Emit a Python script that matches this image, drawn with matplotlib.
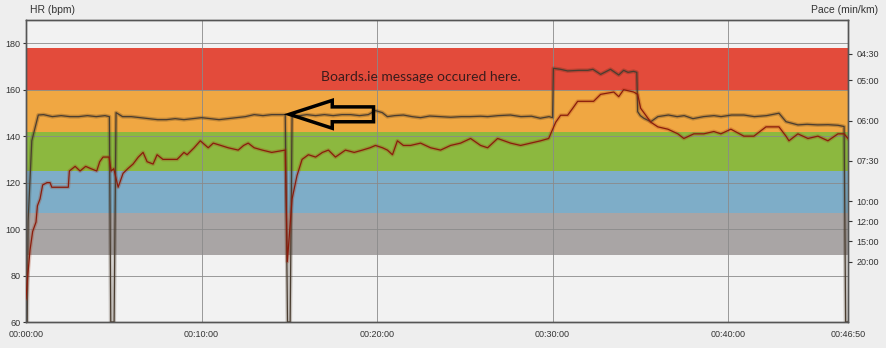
import matplotlib
matplotlib.use('Agg')
import matplotlib.pyplot as plt
import matplotlib.patheffects as pe
from matplotlib.patches import FancyArrow
from matplotlib.ticker import FuncFormatter

# heart rate, time in minutes
hr_time = [0.0, 0.1, 0.23, 0.38, 0.57, 0.65, 0.8, 0.95, 1.2, 1.37, 1.47, 2.41, 2.47, 2.8,
           3.08, 3.4, 3.7, 4.03, 4.2, 4.39, 4.73, 4.85, 5.0, 5.25, 5.53, 5.8, 6.1, 6.4,
           6.67, 6.9, 7.24, 7.47, 7.8, 8.04, 8.61, 9.0, 9.18, 9.58, 9.93, 10.38, 10.67,
           11.1, 11.52, 12.09, 12.4, 12.66, 13.0, 13.46, 14.0, 14.77, 14.89, 15.16, 15.44,
           15.73, 16.09, 16.5, 16.89, 17.23, 17.63, 18.2, 18.7, 19.17, 19.6, 19.91, 20.31,
           20.59, 20.88, 21.16, 21.5, 21.91, 22.48, 23.05, 23.62, 24.19, 24.76, 25.33,
           25.9, 26.3, 26.87, 27.61, 28.18, 28.75, 29.32, 29.78, 30.18, 30.46, 30.86,
           31.15, 31.43, 32.34, 32.74, 33.49, 33.77, 34.05, 34.62, 34.85, 35.02, 35.31,
           35.6, 36.0, 36.57, 37.14, 37.48, 38.05, 38.62, 39.19, 39.59, 40.16, 40.9,
           41.47, 42.16, 42.9, 43.3, 43.47, 43.98, 44.55, 45.12, 45.69, 46.26, 46.61, 46.83]
hr_bpm = [70, 80, 91, 99, 103, 110, 113, 119, 120, 120, 118, 118, 125, 127,
          125, 127, 126, 125, 129, 131, 131, 125, 126, 118, 124, 126, 128, 131,
          133, 129, 128, 132, 130, 130, 130, 133, 132, 135, 138, 135, 137,
          136, 135, 134, 136, 137, 135, 134, 133, 134, 86, 113, 123,
          130, 132, 131, 133, 134, 131, 134, 133, 134, 135, 136, 135,
          134, 132, 138, 136, 136, 137, 135, 134, 136, 137, 139,
          136, 135, 139, 137, 136, 137, 138, 139, 146, 149, 149,
          152, 155, 155, 158, 159, 157, 160, 159, 158, 152, 149,
          146, 144, 143, 141, 139, 141, 141, 142, 141, 143, 140,
          140, 144, 144, 140, 138, 141, 139, 140, 138, 141, 141, 139]

# speed in km/h (drawn against the pace axis)
spd_time = [0.0, 0.07, 0.12, 0.33, 0.7, 1.0, 1.5, 2.0, 2.5, 3.0, 3.5, 4.0, 4.5, 4.75,
            4.83, 5.02, 5.13, 5.5, 6.0, 6.5, 7.0, 7.5, 8.0, 8.5, 9.0, 9.5, 10.0, 10.5,
            11.0, 11.5, 12.0, 12.5, 13.0, 13.5, 14.0, 14.5, 14.77, 14.9, 15.05, 15.16,
            15.6, 16.0, 16.5, 17.0, 17.5, 18.0, 18.5, 19.0, 19.5, 19.91, 20.3, 20.59,
            21.0, 21.5, 22.0, 22.48, 23.0, 23.6, 24.2, 24.8, 25.3, 25.9, 26.3, 26.9,
            27.6, 28.2, 28.8, 29.3, 29.8, 30.0, 30.05, 30.46, 30.86, 31.5, 32.0, 32.3,
            32.74, 33.3, 33.77, 34.05, 34.3, 34.62, 34.8, 34.85, 35.0, 35.2, 35.6, 36.0,
            36.6, 37.1, 37.5, 38.0, 38.6, 39.2, 39.6, 40.2, 40.9, 41.5, 42.2, 42.9,
            43.3, 43.98, 44.5, 45.1, 45.7, 46.26, 46.61, 46.7, 46.83]
spd_kmh = [0, 0, 5.0, 9.0, 10.28, 10.3, 10.2, 10.25, 10.2, 10.2, 10.25, 10.2, 10.25, 10.2,
           0, 0, 10.4, 10.2, 10.2, 10.15, 10.1, 10.05, 10.05, 10.1, 10.05, 10.1, 10.15, 10.1,
           10.05, 10.1, 10.15, 10.2, 10.3, 10.25, 10.3, 10.3, 10.3, 0, 0, 10.2,
           10.25, 10.3, 10.25, 10.3, 10.25, 10.3, 10.3, 10.25, 10.3, 10.5, 10.4, 10.2,
           10.25, 10.28, 10.2, 10.15, 10.23, 10.2, 10.17, 10.2, 10.2, 10.22, 10.2, 10.25,
           10.28, 10.2, 10.22, 10.12, 10.2, 10.15, 12.6, 12.55, 12.47, 12.5, 12.5, 12.55,
           12.3, 12.55, 12.27, 12.5, 12.4, 12.45, 12.4, 10.45, 10.25, 10.12, 9.95, 10.2,
           10.28, 10.2, 10.25, 10.1, 10.2, 10.25, 10.2, 10.28, 10.28, 10.2, 10.25, 10.37,
           9.95, 9.79, 9.82, 9.79, 9.8, 9.77, 9.71, 0, 0]

zone_edges = [89, 107, 125, 142, 160, 178]
zone_colors = ['#a9a5a5', '#7eadc8', '#8cb83f', '#f0a742', '#e34b3b']

hr_ticks = [60, 80, 100, 120, 140, 160, 180]
time_ticks = [0, 10, 20, 30, 40, 46 + 50 / 60]
pace_labels = ['04:30', '05:00', '06:00', '07:30', '10:00', '12:00', '15:00', '20:00']
pace_speed = [60 / (int(p[:2]) + int(p[3:]) / 60) for p in pace_labels]


def fmt_time(v, pos):
    s = int(round(v * 60))
    return f"{s // 3600:02d}:{(s // 60) % 60:02d}:{s % 60:02d}"


plt.rcParams['font.family'] = ['Liberation Sans', 'DejaVu Sans']

fig = plt.figure(figsize=(8.87, 3.48), dpi=100, facecolor='#eeeeee')
rect = [26 / 887, 26 / 348, 822 / 887, 302 / 348]
ax = fig.add_axes(rect)
ax.set_facecolor('#f2f2f2')
for lo, hi, c in zip(zone_edges[:-1], zone_edges[1:], zone_colors):
    ax.axhspan(lo, hi, color=c, lw=0, zorder=0)
ax.set_xlim(0, time_ticks[-1])
ax.set_ylim(60, 190)
ax.set_yticks(hr_ticks)
ax.set_xticks(time_ticks)
ax.xaxis.set_major_formatter(FuncFormatter(fmt_time))
ax.grid(True, color='#8a8a8a', lw=0.6)
ax.tick_params(axis='y', length=2, pad=2, labelsize=6.5, colors='#333333')
ax.tick_params(axis='x', length=0, pad=6, labelsize=6.5, colors='#333333')

ax2 = ax.twinx()
ax2.set_ylim(0, 15)
ax2.set_yticks(pace_speed)
ax2.set_yticklabels(pace_labels)
ax2.tick_params(axis='y', length=3, pad=3, labelsize=6.5, colors='#333333')
for a in (ax, ax2):
    for sp in a.spines.values():
        sp.set_color('#555555')
        sp.set_linewidth(1)

shadow = lambda c: [pe.Stroke(linewidth=2.8, foreground=c, alpha=0.25), pe.Normal()]
ax2.plot(spd_time, spd_kmh, color='#4a3d30', lw=0.9, path_effects=shadow('#3a2a1a'))

top = fig.add_axes(rect, sharex=ax, sharey=ax)
top.axis('off')
top.plot(hr_time, hr_bpm, color='#8a1c0c', lw=0.9, path_effects=shadow('#a03010'))

top.text(22.5, 165.4, 'Boards.ie message occured here.', fontsize=10,
         family=['Lato', 'DejaVu Sans'], color='#3a1c1c', ha='center', va='center')
top.add_patch(FancyArrow(19.8, 149.4, -4.8, 0, width=6.4, head_width=12,
                         head_length=2.45, length_includes_head=True,
                         fc='none', ec='black', lw=2.5, zorder=5))

fig.text(30 / 887, 1 - 10 / 348, 'HR (bpm)', ha='left', va='center', fontsize=7.5, color='#333333')
fig.text(878 / 887, 1 - 10 / 348, 'Pace (min/km)', ha='right', va='center', fontsize=7.5, color='#333333')

fig.savefig('out.png', dpi=100, facecolor=fig.get_facecolor())
